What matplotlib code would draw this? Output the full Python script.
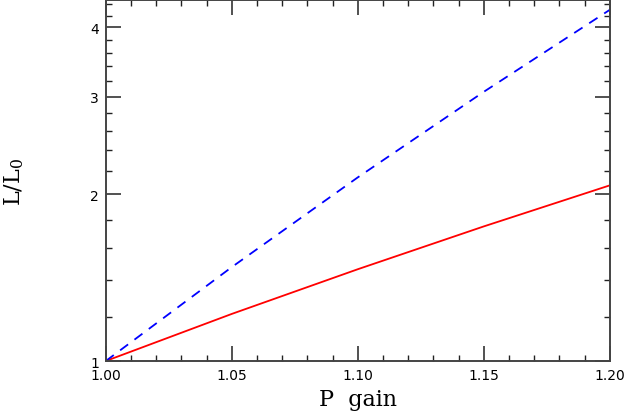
import matplotlib
matplotlib.use('Agg')
import matplotlib.pyplot as plt
from matplotlib.ticker import FixedLocator, NullFormatter, MultipleLocator, FormatStrFormatter

# values
p_gain = [1.00, 1.05, 1.10, 1.15, 1.20]
ratio_solid = [1.000, 1.216, 1.464, 1.749, 2.074]
ratio_dashed = [1.000, 1.477, 2.144, 3.059, 4.300]

y_major = [1, 2, 3, 4]
y_minor = [1.2, 1.4, 1.6, 1.8, 2.2, 2.4, 2.6, 2.8, 3.2, 3.4, 3.6, 3.8, 4.2, 4.4]

fig = plt.figure(figsize=(6.26, 4.14), dpi=100)
ax = fig.add_axes([0.169, 0.1256, 0.805, 0.872])

ax.plot(p_gain, ratio_solid, color='#ff0000', lw=1.3)
ax.plot(p_gain, ratio_dashed, color='#0000ff', lw=1.3, dashes=(5.5, 4.4))

ax.set_yscale('log')
ax.set_xlim(1.0, 1.2)
ax.set_ylim(1.0, 4.48)

ax.xaxis.set_major_locator(MultipleLocator(0.05))
ax.xaxis.set_minor_locator(MultipleLocator(0.01))
ax.xaxis.set_major_formatter(FormatStrFormatter('%.2f'))
ax.yaxis.set_major_locator(FixedLocator(y_major))
ax.yaxis.set_minor_locator(FixedLocator(y_minor))
ax.yaxis.set_major_formatter(FormatStrFormatter('%d'))
ax.yaxis.set_minor_formatter(NullFormatter())

ax.tick_params(which='both', direction='in', top=True, right=True, color='#222222')
ax.tick_params(which='major', length=11, width=1.1, labelsize=10, pad=5)
ax.tick_params(which='minor', length=4.5, width=1.0)
for lab in ax.get_xticklabels() + ax.get_yticklabels():
    lab.set_family('DejaVu Sans')
    lab.set_color('black')
for sp in ax.spines.values():
    sp.set_linewidth(1.4)
    sp.set_color('#444444')

ax.set_xlabel('P  gain', family='DejaVu Serif', fontsize=16, labelpad=4)
ax.set_ylabel(r'$\mathregular{L/L_0}$', family='DejaVu Serif', fontsize=16)
ax.yaxis.set_label_coords(-0.158, 0.5)

fig.savefig('out.png', dpi=100)
